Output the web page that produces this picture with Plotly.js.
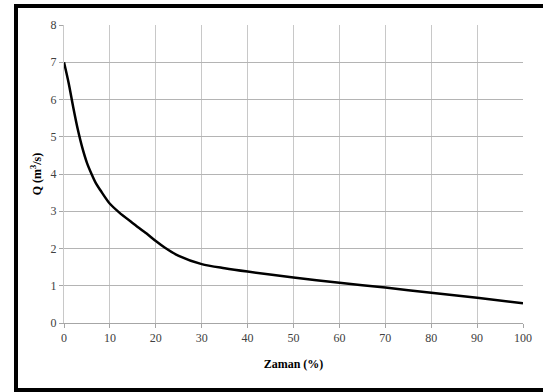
<!DOCTYPE html>
<html>
<head>
<meta charset="utf-8">
<script src="https://cdn.plot.ly/plotly-3.0.1.min.js"></script>
<style>
  html, body { margin: 0; padding: 0; background: #fff; }
  #wrap { position: relative; width: 543px; height: 392px; }
  #chart { width: 543px; height: 392px; }
  #frame { position: absolute; left: 14px; top: 4px; width: 529px; height: 388px;
           box-sizing: border-box; border-left: 4px solid #000; border-top: 4px solid #000;
           border-bottom: 4px solid #000; pointer-events: none; }
</style>
</head>
<body>
<div id="wrap">
  <div id="chart"></div>
  <div id="frame"></div>
</div>
<script>
const timePct = [0, 1, 2, 3, 4, 5, 6, 7, 8, 10, 12, 15, 18, 20, 22, 25, 30, 35, 40, 50, 60, 70, 80, 90, 100];
const flowQ   = [7.0, 6.45, 5.8, 5.2, 4.7, 4.3, 4.0, 3.74, 3.55, 3.2, 2.97, 2.68, 2.4, 2.2, 2.02, 1.8, 1.58, 1.47, 1.38, 1.22, 1.08, 0.95, 0.81, 0.68, 0.53];
const xTicks = [0, 10, 20, 30, 40, 50, 60, 70, 80, 90, 100];
const yTicks = [0, 1, 2, 3, 4, 5, 6, 7, 8];

const serif = '"Liberation Serif", "Times New Roman", serif';
const tickFont = { family: serif, size: 12, color: '#404040' };
const titleFont = { family: serif, size: 12, color: '#000', weight: 'bold' };

Plotly.newPlot('chart', [{
  x: timePct, y: flowQ, type: 'scatter', mode: 'lines',
  line: { color: '#000', width: 2.5, shape: 'spline', smoothing: 0.8 },
  hoverinfo: 'skip'
}], {
  width: 543, height: 392,
  margin: { l: 64, r: 20, t: 25, b: 69 },
  paper_bgcolor: '#fff', plot_bgcolor: '#fff',
  showlegend: false,
  font: { family: serif },
  xaxis: {
    range: [0, 100], tickvals: xTicks, ticktext: xTicks.map(String),
    showgrid: true, gridcolor: '#c8c8c8', gridwidth: 1, zeroline: false,
    showline: true, linecolor: '#a6a6a6', linewidth: 1,
    ticks: 'outside', ticklen: 4, tickcolor: '#a6a6a6',
    tickfont: tickFont,
    title: { text: '<b>Zaman (%)</b>', font: titleFont, standoff: 15 }
  },
  yaxis: {
    range: [0, 8], tickvals: yTicks, ticktext: yTicks.map(String),
    showgrid: true, gridcolor: '#b4b4b4', gridwidth: 1, zeroline: false,
    showline: true, linecolor: '#c8c8c8', linewidth: 1,
    ticks: 'outside', ticklen: 4, tickcolor: '#a6a6a6',
    tickfont: tickFont,
    title: { text: '<b>Q (m<sup>3</sup>/s)</b>', font: titleFont, standoff: 6 }
  }
}, { staticPlot: true, displayModeBar: false });
</script>
</body>
</html>
